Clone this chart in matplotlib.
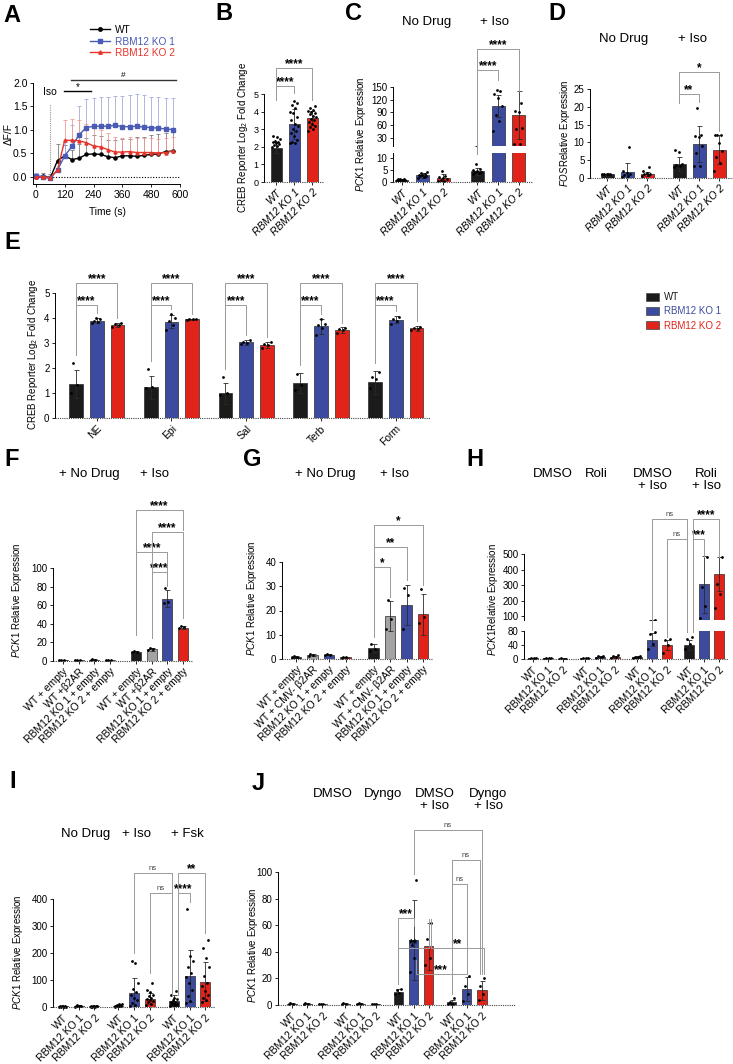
import matplotlib
matplotlib.use('Agg')
import matplotlib.pyplot as plt
import matplotlib.transforms as mtransforms
from matplotlib.patches import Patch
from matplotlib.lines import Line2D
import numpy as np

plt.rcParams['font.family'] = ['Liberation Sans', 'DejaVu Sans']
plt.rcParams['mathtext.fontset'] = 'custom'
plt.rcParams['mathtext.rm'] = 'Liberation Sans'
plt.rcParams['mathtext.it'] = 'Liberation Sans:italic'
plt.rcParams['axes.linewidth'] = 0.7

W, H = 733, 1064
BLACK = '#1b1b1b'
BLUE = '#3c4b9f'
RED = '#e2231a'
GRAY = '#a3a3a3'

# ---------- data ----------
# A: calcium trace
a_time = [0, 30, 60, 90, 120, 150, 180, 210, 240, 270, 300, 330, 360, 390, 420, 450, 480, 510, 540, 570]
a_wt = [-0.01, 0.02, -0.02, 0.35, 0.45, 0.37, 0.40, 0.48, 0.49, 0.48, 0.43, 0.41, 0.45, 0.45, 0.44, 0.46, 0.48, 0.49, 0.54, 0.55]
a_wt_err = [0.05, 0.06, 0.08, 0.35, 0.23, 0.20, 0.30, 0.35, 0.40, 0.40, 0.35, 0.38, 0.35, 0.35, 0.40, 0.40, 0.42, 0.42, 0.40, 0.42]
a_ko1 = [0.03, 0.0, -0.03, 0.15, 0.45, 0.65, 0.90, 1.05, 1.08, 1.08, 1.08, 1.10, 1.07, 1.07, 1.08, 1.06, 1.05, 1.04, 1.02, 1.01]
a_ko1_err = [0.05, 0.05, 0.05, 0.15, 0.30, 0.45, 0.60, 0.60, 0.60, 0.62, 0.62, 0.62, 0.65, 0.67, 0.68, 0.68, 0.66, 0.66, 0.67, 0.67]
a_ko2 = [0.0, 0.0, -0.02, 0.15, 0.78, 0.78, 0.77, 0.73, 0.66, 0.64, 0.58, 0.53, 0.53, 0.54, 0.52, 0.52, 0.52, 0.51, 0.52, 0.55]
a_ko2_err = [0.05, 0.05, 0.05, 0.15, 0.44, 0.46, 0.45, 0.40, 0.38, 0.35, 0.35, 0.32, 0.30, 0.30, 0.30, 0.30, 0.30, 0.30, 0.30, 0.30]

geno = ['WT', 'RBM12 KO 1', 'RBM12 KO 2']

# B
b_means = [1.95, 3.28, 3.62]
b_errs = [0.3, 0.85, 0.4]
b_pts = [[2.0, 2.05, 2.1, 2.15, 2.2, 2.25, 2.3, 2.35, 2.45, 2.55, 2.6],
         [2.2, 2.2, 2.25, 2.4, 2.6, 2.8, 2.9, 3.0, 3.2, 3.3, 3.5, 3.7, 3.9, 4.0, 4.2, 4.35, 4.5, 4.6],
         [2.9, 3.0, 3.1, 3.2, 3.3, 3.4, 3.5, 3.6, 3.7, 3.75, 3.85, 3.9, 4.0, 4.05, 4.1, 4.2, 4.3]]

# C
c_means = [1.0, 2.8, 1.8, 4.5, 105, 83]
c_errs = [0.3, 1.0, 1.4, 1.5, 25, 57]
c_pts = [[0.7, 0.8, 0.9, 1.0, 1.0, 1.1, 1.2, 1.3],
         [1.5, 2.0, 2.3, 2.6, 2.9, 3.1, 3.4, 3.8, 4.2],
         [0.4, 0.6, 0.9, 1.2, 1.5, 2.0, 2.5, 4.6],
         [3.5, 3.8, 4.0, 4.3, 4.6, 5.0, 5.3, 7.5],
         [45, 70, 83, 105, 125, 133, 140, 143],
         [14, 14, 50, 52, 90, 94, 112]]

# D
d_means = [1.0, 1.7, 1.2, 3.9, 9.5, 8.0]
d_errs = [0.1, 2.6, 0.6, 1.9, 5.0, 4.2]
d_pts = [[1.0, 1.0, 1.1, 1.2, 1.0],
         [0.2, 0.5, 0.8, 1.0, 1.5, 2.0, 8.6],
         [0.5, 0.8, 1.0, 1.2, 1.5, 2.0, 3.0],
         [3.0, 3.5, 3.7, 4.0, 7.2, 8.0],
         [3.3, 3.3, 7.0, 8.9, 11.5, 11.7, 12.2, 19.7],
         [1.9, 4.2, 6.0, 7.5, 9.8, 12.0, 12.0, 12.2]]

# E
e_groups = ['NE', 'Epi', 'Sal', 'Terb', 'Form']
e_wt = [1.35, 1.22, 0.98, 1.38, 1.42]
e_wt_err = [0.55, 0.47, 0.43, 0.40, 0.47]
e_ko1 = [3.90, 3.86, 3.02, 3.66, 3.93]
e_ko1_err = [0.10, 0.27, 0.10, 0.30, 0.15]
e_ko2 = [3.72, 3.95, 2.92, 3.50, 3.58]
e_ko2_err = [0.08, 0.03, 0.12, 0.12, 0.10]
e_wt_pts = [[1.0, 1.3, 2.2], [1.2, 1.25, 1.95], [0.9, 1.0, 1.65], [1.1, 1.3, 1.75], [1.2, 1.55, 1.65, 1.85]]
e_ko1_pts = [[3.8, 3.85, 3.9, 3.95, 4.0], [3.5, 3.7, 3.9, 4.0, 4.15], [2.95, 3.0, 3.05, 3.1],
             [3.3, 3.6, 3.7, 3.75, 3.95], [3.75, 3.9, 3.95, 4.05]]
e_ko2_pts = [[3.65, 3.7, 3.75, 3.8], [3.93, 3.95, 3.96, 3.97], [2.8, 2.9, 2.95, 3.05],
             [3.4, 3.5, 3.55, 3.6], [3.5, 3.55, 3.6, 3.65]]

# F
f_labels = ['WT + empty', 'WT +β2AR', 'RBM12 KO 1 + empty', 'RBM12 KO 2 + empty'] * 2
f_means = [1.0, 1.2, 1.6, 0.9, 10, 12.5, 67, 36]
f_errs = [0.1, 0.2, 0.2, 0.1, 0.5, 1.5, 9, 2]
f_pts = [[0.9, 1.0, 1.1], [1.1, 1.2, 1.4], [1.4, 1.6, 1.8], [0.8, 0.9, 1.0],
         [9.6, 10, 10.4], [11.5, 12.8, 13.5], [62, 63, 78], [35, 36.5, 38]]

# G
g_labels = ['WT + empty', 'WT + CMV- β2AR', 'RBM12 KO 1 + empty', 'RBM12 KO 2 + empty'] * 2
g_means = [1.0, 1.6, 1.8, 0.7, 4.4, 17.8, 22.3, 18.4]
g_errs = [0.1, 0.4, 0.2, 0.1, 1.6, 6.2, 8.4, 8.3]
g_pts = [[0.9, 1.0, 1.1], [1.2, 1.7, 1.9], [1.6, 1.8, 2.0], [0.6, 0.7, 0.8],
         [3.4, 4.0, 6.0], [12.3, 16.5, 24.4], [12.3, 26.5, 29.3], [14.7, 17.5, 29.0]]

# H
h_means = [1.5, 1.5, 1.0, 2.5, 5, 6, 6, 55, 40, 40, 305, 370]
h_errs = [0.5, 0.5, 0.5, 1, 3, 4, 2, 18, 13, 15, 185, 110]
h_pts = [[1, 1.5, 2, 1.5], [1, 1.5, 2, 1.5], [0.5, 1, 1.5, 1],
         [1, 2, 3, 3], [3, 5, 8, 10], [3, 5, 10, 12],
         [4, 5, 7, 8], [30, 44, 71, 77], [18, 40, 54, 56],
         [30, 44, 56, 63], [85, 165, 287, 480], [150, 242, 306, 480]]

# I
i_means = [2, 3, 2, 5, 52, 31, 21, 116, 94]
i_errs = [1, 1.5, 1, 4, 55, 21, 25, 96, 71]
i_pts = [[0.5, 1, 1, 1.5, 2, 2, 2.5, 3],
         [1, 2, 2, 3, 3, 4, 5, 6],
         [0.5, 1, 1.5, 2, 2, 3, 3, 4],
         [1, 2, 3, 3, 4, 5, 6, 8, 10, 12],
         [2, 8, 15, 25, 35, 45, 55, 65, 90, 163, 171],
         [8, 12, 18, 22, 27, 30, 35, 40, 46, 54, 64, 90],
         [5, 8, 10, 12, 15, 18, 20, 25, 30, 35, 45, 58],
         [15, 21, 40, 64, 89, 110, 126, 150, 169, 188, 363],
         [20, 27, 33, 46, 58, 77, 89, 114, 150, 181, 218, 249]]

# J
j_means = [1, 1, 0.8, 1, 1, 0.8, 10, 49, 44, 2, 12, 11]
j_errs = [0.3, 0.3, 0.3, 0.3, 0.3, 0.3, 2, 30, 18, 2, 9, 7]
j_pts = [[0.5, 1, 1.5], [0.5, 1, 1.5], [0.5, 0.8, 1.1],
         [0.5, 1, 1.5], [0.5, 1, 1.5], [0.5, 0.8, 1.1],
         [8, 9, 11, 12], [25, 35, 45, 94], [30, 35, 50, 62],
         [0.5, 1, 2, 5], [3, 8, 14, 22], [4, 8, 14, 20]]

# ---------- helpers ----------
fig = plt.figure(figsize=(W / 100, H / 100), dpi=100)


def fy(p):
    return 1 - p / H


def box(l, t, r, b):
    return fig.add_axes([l / W, 1 - b / H, (r - l) / W, (b - t) / H])


def dpx(ax, v):
    return H - ax.transData.transform((0, v))[1]


def bars(ax, pos, means, errs, colors, pts, w=0.64, clip=False):
    ax.bar(pos, means, w, color=colors, edgecolor='#2a2a2a', linewidth=0.5, zorder=2)
    ax.errorbar(pos, means, yerr=errs, fmt='none', ecolor='#2a2a2a', elinewidth=0.6,
                capsize=1.8, capthick=0.6, zorder=3)
    for x, p in zip(pos, pts):
        n = len(p)
        off = ((np.arange(n) * 0.618) % 1 - 0.5) * w * 0.75
        ax.scatter(x + off, p, s=4, color='k', linewidths=0, zorder=4, clip_on=clip)


def style(ax, xpos, labels, italic=False, fs=7.5, base=True):
    for s in ['top', 'right', 'bottom']:
        ax.spines[s].set_visible(False)
    if base:
        ax.axhline(0, color='#444444', lw=0.8, ls=(0, (1, 1)), zorder=5, clip_on=False)
    ax.set_xticks(xpos)
    ax.set_xticklabels(labels, rotation=45, ha='right', rotation_mode='anchor',
                       fontstyle='italic' if italic else 'normal', fontsize=fs)
    ax.tick_params(axis='both', length=2.5, width=0.6, pad=1.5, labelsize=7)
    ax.tick_params(axis='x', labelsize=fs)


def sig(ax, x1, x2, y, y1, y2, txt):
    tr = mtransforms.blended_transform_factory(ax.transData, fig.transFigure)
    ax.plot([x1, x1, x2, x2], [fy(y1), fy(y), fy(y), fy(y2)], color='#9a9a9a', lw=0.7,
            transform=tr, clip_on=False, zorder=6)
    if txt == 'ns':
        ax.text((x1 + x2) / 2, fy(y - 3), txt, transform=tr, ha='center', va='baseline',
                fontsize=5.5, color='#444444')
    else:
        ax.text((x1 + x2) / 2, fy(y - 0.5), txt, transform=tr, ha='center', va='baseline',
                fontsize=8.5, fontweight='bold')


def ylab(x, y, s, fs=7):
    fig.text(x / W, fy(y), s, rotation=90, ha='center', va='center', fontsize=fs)


def glab(x, y, s, fs=9.5):
    fig.text(x / W, fy(y), s, ha='center', va='top', fontsize=fs, linespacing=1.05)


def letter(x, y, s):
    fig.text(x / W, fy(y), s, ha='center', va='center', fontsize=17, fontweight='bold')


cols3 = [BLACK, BLUE, RED]

# ---------- A ----------
axA = box(33, 83, 180, 184)
for y, e, c, ec, m in [(a_wt, a_wt_err, 'k', '#7a7a7a', 'o'),
                       (a_ko1, a_ko1_err, '#4a5bb5', '#a4acdc', 's'),
                       (a_ko2, a_ko2_err, '#e8332a', '#f29a94', '^')]:
    axA.errorbar(a_time, y, yerr=[np.zeros(len(e)), e], fmt='none', ecolor=ec, elinewidth=0.6,
                 capsize=1.5, capthick=0.6, zorder=2)
    axA.plot(a_time, y, color=c, marker=m, ms=2.2, lw=1.0, zorder=3)
axA.plot([0, 600], [0, 0], color='k', lw=0.8, ls=(0, (1, 1.5)), zorder=1)
axA.plot([60, 60], [0, 1.55], color='#999999', lw=0.8, ls=(0, (1, 1)), zorder=1)
axA.text(60, 1.75, 'Iso', ha='center', va='baseline', fontsize=7.5)
axA.plot([118, 229], [1.82, 1.82], color='k', lw=1.0, clip_on=False)
axA.text(173, 1.85, '*', ha='center', va='baseline', fontsize=7)
axA.plot([146, 583], [2.07, 2.07], color='#333333', lw=1.0, clip_on=False)
axA.text(365, 2.12, '#', ha='center', va='baseline', fontsize=6)
axA.set_xlim(-12, 600)
axA.set_ylim(-0.15, 2.0)
axA.set_xticks([0, 120, 240, 360, 480, 600])
axA.set_yticks([0, 0.5, 1.0, 1.5, 2.0])
axA.set_yticklabels(['0.0', '0.5', '1.0', '1.5', '2.0'])
for s in ['top', 'right']:
    axA.spines[s].set_visible(False)
axA.tick_params(length=2.5, width=0.6, pad=1.5, labelsize=7.5)
fig.text(107 / W, fy(212), 'Time (s)', ha='center', va='center', fontsize=7.3)
ylab(9, 134, 'ΔF/F', fs=7.3)
hl = [Line2D([], [], color='k', marker='o', ms=2.5, lw=1),
      Line2D([], [], color='#4a5bb5', marker='s', ms=2.5, lw=1),
      Line2D([], [], color='#e8332a', marker='^', ms=2.5, lw=1)]
leg = axA.legend(hl, ['WT', 'RBM12 KO 1', 'RBM12 KO 2'], loc='upper left',
                 bbox_to_anchor=(90 / W, fy(25)), bbox_transform=fig.transFigure, frameon=False,
                 fontsize=7.3, handlelength=2.0, handletextpad=0.5, labelspacing=0.15,
                 borderaxespad=0, borderpad=0)
for t, c in zip(leg.get_texts(), ['k', '#4a5bb5', '#e8332a']):
    t.set_color(c)

# ---------- B ----------
axB = box(264, 94, 323, 182)
bars(axB, [0, 1, 2], b_means, b_errs, cols3, b_pts, w=0.61)
axB.set_xlim(-0.67, 2.6)
axB.set_ylim(0, 5)
axB.set_yticks([0, 1, 2, 3, 4, 5])
style(axB, [0, 1, 2], geno, italic=True)
axB.tick_params(axis='y', labelsize=6.5)
sig(axB, 0, 2, 68, 100, 100, '****')
sig(axB, 0, 1, 86, 100, 93, '****')
ylab(243, 138, 'CREB Reporter Log$_2$ Fold Change')

# ---------- C (broken axis) ----------
pos_c = [0, 1, 2, 3.65, 4.65, 5.65]
c_cols = cols3 * 2
axC1 = box(393, 153, 533, 182)
axC2 = box(393, 87, 533, 146)
for ax in (axC1, axC2):
    bars(ax, pos_c, c_means, c_errs, c_cols, c_pts, w=0.63, clip=True)
    ax.set_xlim(-0.43, 6.33)
axC1.set_ylim(0, 12)
axC1.set_yticks([0, 5, 10])
axC2.set_ylim(10, 150)
axC2.set_yticks([30, 60, 90, 120, 150])
style(axC1, pos_c, geno * 2, italic=True)
style(axC2, [], [], base=False)
axC2.tick_params(axis='x', length=0)
glab(427, 16, 'No Drug')
glab(494, 16, '+ Iso')
sig(axC2, 3.65, 5.65, 49, 154, 91, '****')
sig(axC2, 3.65, 4.65, 70, 154, 80, '****')
ylab(361, 134, r'$\it{PCK1}$ Relative Expression')

# ---------- D ----------
pos_d = [0, 1, 2, 3.6, 4.6, 5.6]
axD = box(590, 89, 733, 178)
bars(axD, pos_d, d_means, d_errs, cols3 * 2, d_pts, w=0.65)
axD.set_xlim(-0.85, 6.3)
axD.set_ylim(0, 25)
axD.set_yticks([0, 5, 10, 15, 20, 25])
style(axD, pos_d, geno * 2, italic=True)
glab(624, 33, 'No Drug')
glab(692, 33, '+ Iso')
sig(axD, 3.6, 5.6, 72, 103, 131, '*')
sig(axD, 3.6, 4.6, 94, 103, 102, '**')
ylab(565, 133, r'$\it{FOS}$Relative Expression')

# ---------- E ----------
axE = box(55, 293, 430, 418)
for g in range(5):
    b = g * 3.6
    bars(axE, [b, b + 1, b + 2], [e_wt[g], e_ko1[g], e_ko2[g]],
         [e_wt_err[g], e_ko1_err[g], e_ko2_err[g]], cols3,
         [e_wt_pts[g], e_ko1_pts[g], e_ko2_pts[g]], w=0.67)
axE.set_xlim(-1.01, 17.05)
axE.set_ylim(0, 5)
style(axE, [g * 3.6 + 1 for g in range(5)], e_groups)
for g in range(5):
    b = g * 3.6
    tw = max(max(e_wt_pts[g]), e_wt[g] + e_wt_err[g])
    t1 = max(max(e_ko1_pts[g]), e_ko1[g] + e_ko1_err[g])
    t2 = max(max(e_ko2_pts[g]), e_ko2[g] + e_ko2_err[g])
    sig(axE, b, b + 2, 283, dpx(axE, tw) - 8, dpx(axE, t2) - 5, '****')
    sig(axE, b, b + 1, 305, dpx(axE, tw) - 8, dpx(axE, t1) - 5, '****')
ylab(33, 355, 'CREB Reporter Log$_2$ Fold Change')
hE = [Patch(facecolor=c, edgecolor='#555555', linewidth=0.6) for c in cols3]
legE = axE.legend(hE, geno, loc='upper left', bbox_to_anchor=(646 / W, fy(292)),
                  bbox_transform=fig.transFigure, frameon=False, fontsize=7,
                  handlelength=1.3, handleheight=0.9, handletextpad=0.5, labelspacing=0.45,
                  borderaxespad=0, borderpad=0)
for t, c in zip(legE.get_texts(), cols3):
    t.set_color(c)

# ---------- F ----------
pos_f = [0, 1, 2, 3, 4.67, 5.67, 6.67, 7.67]
cols4 = [BLACK, GRAY, BLUE, RED] * 2
axF = box(53, 568, 193, 661)
bars(axF, pos_f, f_means, f_errs, cols4, f_pts, w=0.64)
axF.set_xlim(-0.64, 8.3)
axF.set_ylim(0, 100)
axF.set_yticks([0, 20, 40, 60, 80, 100])
style(axF, pos_f, f_labels)
glab(89, 468, '+ No Drug')
glab(155, 468, '+ Iso')
sig(axF, 4.67, 7.67, 510, 635, 530, '****')
sig(axF, 5.67, 7.67, 532, 638, 618, '****')
sig(axF, 4.67, 6.67, 552, 635, 586, '****')
sig(axF, 5.67, 6.67, 572, 638, 586, '****')
ylab(17, 600, r'$\it{PCK1}$ Relative Expression')

# ---------- G ----------
pos_g = [0, 1, 2, 3, 4.7, 5.7, 6.7, 7.7]
axG = box(282, 562, 433, 659)
bars(axG, pos_g, g_means, g_errs, cols4, g_pts, w=0.65)
axG.set_xlim(-0.85, 8.3)
axG.set_ylim(0, 40)
axG.set_yticks([0, 10, 20, 30, 40])
style(axG, pos_g, g_labels)
glab(325, 468, '+ No Drug')
glab(394, 468, '+ Iso')
sig(axG, 4.7, 7.7, 525, 637, 585, '*')
sig(axG, 4.7, 6.7, 547, 637, 580, '**')
sig(axG, 4.7, 5.7, 567, 637, 597, '*')
ylab(252, 598, r'$\it{PCK1}$ Relative Expression')

# ---------- H (broken axis) ----------
pos_h = [g * 3.45 + k for g in range(4) for k in range(3)]
axH1 = box(524, 631, 728, 659)
axH2 = box(524, 554, 728, 620)
for ax in (axH1, axH2):
    bars(ax, pos_h, h_means, h_errs, cols3 * 4, h_pts, w=0.67, clip=True)
    ax.set_xlim(-0.6, 12.94)
axH1.set_ylim(0, 80)
axH1.set_yticks([0, 40, 80])
axH2.set_ylim(75, 500)
axH2.set_yticks([100, 200, 300, 400, 500])
style(axH1, pos_h, geno * 4)
style(axH2, [], [], base=False)
axH2.tick_params(axis='x', length=0)
glab(553, 468, 'DMSO')
glab(596, 468, 'Roli')
glab(653, 468, 'DMSO\n+ Iso')
glab(706, 468, 'Roli\n+ Iso')
sig(axH2, 7.9, 10.22, 519, 630, 632, 'ns')
sig(axH2, 8.9, 10.22, 539, 637, 632, 'ns')
sig(axH2, 10.6, 12.35, 519, 632, 557, '****')
sig(axH2, 10.6, 11.35, 539, 632, 557, '***')
ylab(493, 600, r'$\it{PCK1}$Relative Expression')

# ---------- I ----------
pos_i = [g * 3.53 + k for g in range(3) for k in range(3)]
axI = box(53, 899, 215, 1007)
bars(axI, pos_i, i_means, i_errs, cols3 * 3, i_pts, w=0.64)
axI.set_xlim(-0.64, 9.68)
axI.set_ylim(0, 400)
axI.set_yticks([0, 100, 200, 300, 400])
style(axI, pos_i, geno * 3)
glab(86, 828, 'No Drug')
glab(137, 828, '+ Iso')
glab(187, 828, '+ Fsk')
sig(axI, 4.53, 6.92, 873, 953, 995, 'ns')
sig(axI, 5.53, 6.92, 893, 973, 995, 'ns')
sig(axI, 7.3, 9.06, 873, 995, 933, '**')
sig(axI, 7.3, 8.06, 893, 995, 902, '****')
ylab(18, 952, r'$\it{PCK1}$ Relative Expression')

# ---------- J ----------
pos_j = [g * 3.5 + k for g in range(4) for k in range(3)]
axJ = box(278, 872, 515, 1005)
bars(axJ, pos_j, j_means, j_errs, cols3 * 4, j_pts, w=0.6)
axJ.set_xlim(-0.92, 14.67)
axJ.set_ylim(0, 100)
axJ.set_yticks([0, 20, 40, 60, 80, 100])
style(axJ, pos_j, geno * 4)
glab(333, 788, 'DMSO')
glab(383, 788, 'Dyngo')
glab(435, 788, 'DMSO\n+ Iso')
glab(488, 788, 'Dyngo\n+ Iso')
sig(axJ, 8, 12.5, 830, 874, dpx(axJ, 20) - 4, 'ns')
sig(axJ, 10.5, 12.35, 860, dpx(axJ, 5) - 4, dpx(axJ, 20) - 4, 'ns')
sig(axJ, 10.5, 11.5, 884, dpx(axJ, 5) - 4, dpx(axJ, 22) - 4, 'ns')
sig(axJ, 7, 8, 918, dpx(axJ, 12) - 5, 926, '***')
sig(axJ, 7, 9, 948, dpx(axJ, 12) - 5, dpx(axJ, 62) - 4, '**')
sig(axJ, 9.15, 12.65, 948, dpx(axJ, 62) - 4, dpx(axJ, 20) - 4, '**')
sig(axJ, 8.15, 11.5, 974, 960, dpx(axJ, 22) - 4, '***')
ylab(253, 945, r'$\it{PCK1}$ Relative Expression')

# ---------- panel letters ----------
for s, x, y in [('A', 12, 15), ('B', 224, 13), ('C', 353, 14), ('D', 557, 14), ('E', 12, 242),
                ('F', 12, 459), ('G', 252, 459), ('H', 475, 459), ('I', 13, 782), ('J', 258, 783)]:
    letter(x, y, s)

fig.savefig('out.png', dpi=100)
